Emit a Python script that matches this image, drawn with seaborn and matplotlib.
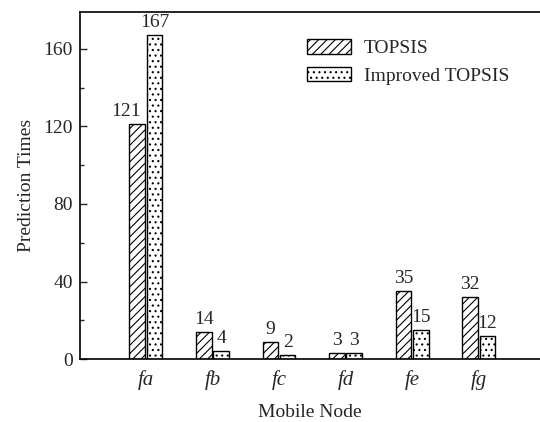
import matplotlib
matplotlib.use("Agg")
import matplotlib.pyplot as plt
import seaborn as sns
import pandas as pd
from matplotlib.patches import Patch
from matplotlib.ticker import MultipleLocator

nodes = ["fa", "fb", "fc", "fd", "fe", "fg"]
topsis = [121, 14, 9, 3, 35, 32]
improved = [167, 4, 2, 3, 15, 12]
series = ["TOPSIS", "Improved TOPSIS"]

df = pd.DataFrame({
    "node": nodes * 2,
    "value": topsis + improved,
    "method": [series[0]] * len(nodes) + [series[1]] * len(nodes),
})

sns.set_style("ticks")
plt.rcParams["font.family"] = ["Liberation Serif", "DejaVu Serif"]
plt.rcParams["hatch.linewidth"] = 0.8

fig = plt.figure(figsize=(5.4, 4.22), dpi=100)
ax = fig.add_axes([0.148, 0.149, 0.852, 0.8226])

sns.barplot(data=df, x="node", y="value", hue="method", hue_order=series,
            order=nodes, width=0.52, gap=0.1, ax=ax,
            palette=["white", "white"], edgecolor="black", linewidth=1.0,
            legend=False, saturation=1)

hatches = ["////", "..."]
for i, (cont, h) in enumerate(zip(ax.containers, hatches)):
    for p in cont:
        p.set_hatch(h)
        p.set_edgecolor("black")
    anns = ax.bar_label(cont, padding=3, fontsize=14)
    if i == 0:
        anns[0].xyann = (-8, 3)

ax.set_xlim(-0.99, 5.92)
ax.set_ylim(0, 179)
ax.yaxis.set_major_locator(MultipleLocator(40))
ax.yaxis.set_minor_locator(MultipleLocator(20))
ax.tick_params(axis="y", which="major", direction="in", length=5, labelsize=14, width=1, pad=5)
ax.tick_params(axis="y", which="minor", direction="in", length=3, width=1)
ax.tick_params(axis="x", length=0, labelsize=15, pad=8)
ax.set_xticks(range(len(nodes)))
ax.set_xticklabels(nodes, fontstyle="italic")
ax.set_xlabel("Mobile Node", fontsize=14, labelpad=10)
ax.set_ylabel("Prediction Times", fontsize=14, labelpad=6)
for s in ["left", "bottom", "top"]:
    ax.spines[s].set_linewidth(1.2)
    ax.spines[s].set_color("black")
ax.spines["right"].set_visible(False)

handles = [Patch(facecolor="white", edgecolor="black", hatch=h, label=l)
           for h, l in zip(hatches, series)]
ax.legend(handles=handles, loc="upper left", bbox_to_anchor=(0.463, 0.96),
          frameon=False, fontsize=14, handlelength=2.3, handleheight=0.75,
          handletextpad=0.65, labelspacing=0.5, borderpad=0.2)

fig.savefig("out.png", dpi=100)
